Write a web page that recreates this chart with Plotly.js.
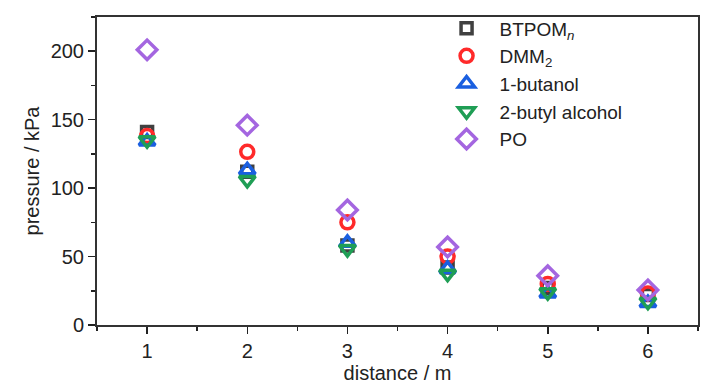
<!DOCTYPE html>
<html>
<head>
<meta charset="utf-8">
<script src="https://cdn.plot.ly/plotly-3.0.1.min.js"></script>
<style>html,body{margin:0;padding:0;background:#fff;}#chart{width:728px;height:390px;}</style>
</head>
<body>
<div id="chart"></div>
<script>
const distance = [1, 2, 3, 4, 5, 6];
const seriesNames = ['BTPOM<sub><i>n</i></sub>', 'DMM<sub>2</sub>', '1-butanol', '2-butyl alcohol', 'PO'];
const btpom = [141, 112, 58, 42, 27, 22];
const dmm2 = [138, 126.5, 75, 50, 30, 23];
const butanol1 = [134, 113, 60, 41, 23, 16];
const butyl2 = [135, 106, 55.5, 37.5, 24, 17];
const po = [201, 146, 84, 57, 36, 25.5];
const symbols = ['square-open', 'circle-open', 'triangle-up-open', 'triangle-down-open', 'diamond-open'];
const colors = ['#404040', '#ff2a2a', '#1a5fe0', '#1f9e55', '#a466e0'];
const sizes = [11, 13, 14, 14, 15];
const values = [btpom, dmm2, butanol1, butyl2, po];

const font = "'Liberation Sans', Arial, sans-serif";
const traces = values.map((v, i) => ({
  x: distance, y: v, name: seriesNames[i], type: 'scatter', mode: 'markers',
  marker: {symbol: symbols[i], color: colors[i], size: sizes[i], line: {color: colors[i], width: 3.5}}
}));

const layout = {
  width: 728, height: 390,
  margin: {l: 97, r: 30, t: 17, b: 65, autoexpand: false},
  paper_bgcolor: '#fff', plot_bgcolor: '#fff',
  font: {family: font, size: 20, color: '#222'},
  showlegend: true,
  legend: {x: 0.56, y: 1.025, xanchor: 'left', yanchor: 'top', bgcolor: 'rgba(0,0,0,0)', font: {size: 19}, itemwidth: 56, tracegroupgap: 0},
  xaxis: {
    range: [0.5, 6.5], tickvals: distance, ticks: 'outside', ticklen: 7, tickwidth: 1.5, tickcolor: '#222',
    showline: true, mirror: true, linecolor: '#333', linewidth: 2, showgrid: false, zeroline: false,
    minor: {dtick: 0.5, tick0: 0.5, ticks: 'outside', ticklen: 4, tickcolor: '#222', tickwidth: 1.5},
    title: {text: 'distance / m', font: {size: 20}, standoff: 4},
    tickfont: {size: 20}
  },
  yaxis: {
    range: [0, 225], tickvals: [0, 50, 100, 150, 200], ticks: 'outside', ticklen: 7, tickwidth: 1.5, tickcolor: '#222',
    showline: true, mirror: true, linecolor: '#333', linewidth: 2, showgrid: false, zeroline: false,
    minor: {dtick: 25, tick0: 0, ticks: 'outside', ticklen: 4, tickcolor: '#222', tickwidth: 1.5},
    title: {text: 'pressure / kPa', font: {size: 20}, standoff: 6},
    tickfont: {size: 20}
  }
};
Plotly.newPlot('chart', traces, layout, {displayModeBar: false, staticPlot: true});
</script>
</body>
</html>
